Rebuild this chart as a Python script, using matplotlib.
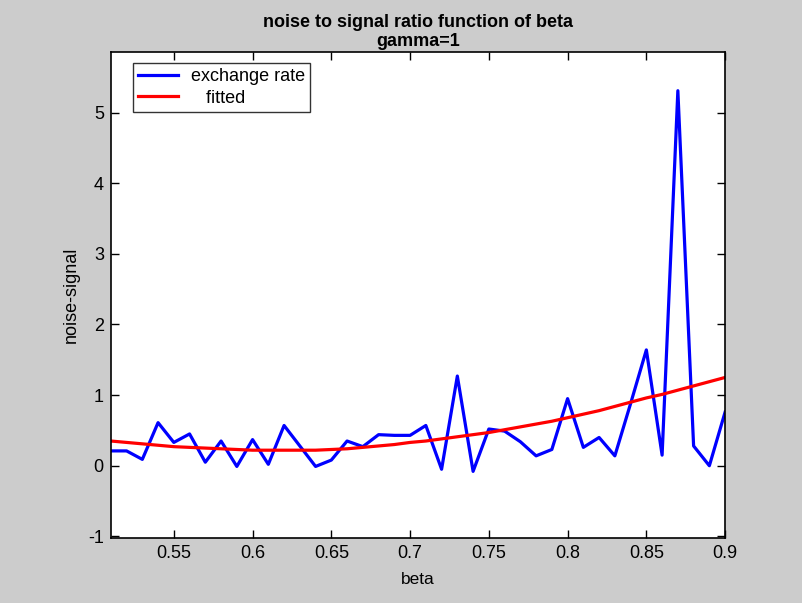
import matplotlib
matplotlib.use("Agg")
import matplotlib.pyplot as plt
import numpy as np

# beta grid (0.51 .. 0.90 step 0.01)
beta = [0.51, 0.52, 0.53, 0.54, 0.55, 0.56, 0.57, 0.58, 0.59, 0.60,
        0.61, 0.62, 0.63, 0.64, 0.65, 0.66, 0.67, 0.68, 0.69, 0.70,
        0.71, 0.72, 0.73, 0.74, 0.75, 0.76, 0.77, 0.78, 0.79, 0.80,
        0.81, 0.82, 0.83, 0.84, 0.85, 0.86, 0.87, 0.88, 0.89, 0.90]

exchange_rate = [0.21, 0.21, 0.09, 0.61, 0.33, 0.45, 0.05, 0.35, -0.01, 0.37,
                 0.02, 0.57, 0.28, -0.01, 0.08, 0.35, 0.27, 0.44, 0.43, 0.43,
                 0.57, -0.05, 1.27, -0.08, 0.52, 0.49, 0.34, 0.14, 0.23, 0.95,
                 0.26, 0.40, 0.14, 0.88, 1.64, 0.15, 5.31, 0.28, 0.00, 0.76]

fitted = [0.35, 0.33, 0.31, 0.29, 0.27, 0.26, 0.25, 0.24, 0.23, 0.22,
          0.22, 0.22, 0.22, 0.22, 0.23, 0.24, 0.26, 0.28, 0.30, 0.33,
          0.35, 0.38, 0.41, 0.44, 0.47, 0.51, 0.55, 0.59, 0.63, 0.68,
          0.73, 0.78, 0.84, 0.90, 0.96, 1.01, 1.07, 1.13, 1.19, 1.25]

x_ticks = [0.55, 0.6, 0.65, 0.7, 0.75, 0.8, 0.85, 0.9]
x_tick_labels = ["0.55", "0.6", "0.65", "0.7", "0.75", "0.8", "0.85", "0.9"]
y_ticks = [-1, 0, 1, 2, 3, 4, 5]

plt.rcParams['font.family'] = ['Liberation Sans', 'DejaVu Sans']
plt.rcParams['axes.unicode_minus'] = False

fig = plt.figure(figsize=(8.03, 6.03), dpi=100, facecolor='#cccccc')
ax = fig.add_axes([0.138, 0.107, 0.765, 0.807])
ax.set_facecolor('white')

ax.plot(beta, exchange_rate, color='#0000ff', lw=2.3, label='exchange rate')
ax.plot(beta, fitted, color='#ff0000', lw=2.3, label='   fitted')

ax.set_xlim(0.51, 0.9)
ax.set_ylim(-1.03, 5.86)
ax.set_xticks(x_ticks)
ax.set_xticklabels(x_tick_labels)
ax.set_yticks(y_ticks)
ax.tick_params(direction='in', top=True, right=True, length=6, width=1,
               labelsize=13, pad=5)
for s in ax.spines.values():
    s.set_linewidth(1.2)
    s.set_color('black')

ax.set_xlabel('beta', fontsize=12.5, labelpad=7)
ax.set_ylabel('noise-signal', fontsize=13, labelpad=6)
ax.set_title('noise to signal ratio function of beta\ngamma=1',
             fontsize=13, fontweight='bold', pad=4, linespacing=1.2)

leg = ax.legend(loc='upper left', bbox_to_anchor=(0.03, 0.985), fontsize=13,
                frameon=True, fancybox=False, handlelength=2.2,
                borderpad=0.3, labelspacing=0.25, handletextpad=0.7,
                borderaxespad=0.2)
leg.get_frame().set_edgecolor('black')
leg.get_frame().set_linewidth(1.0)

fig.savefig('out.png', dpi=100, facecolor=fig.get_facecolor())
